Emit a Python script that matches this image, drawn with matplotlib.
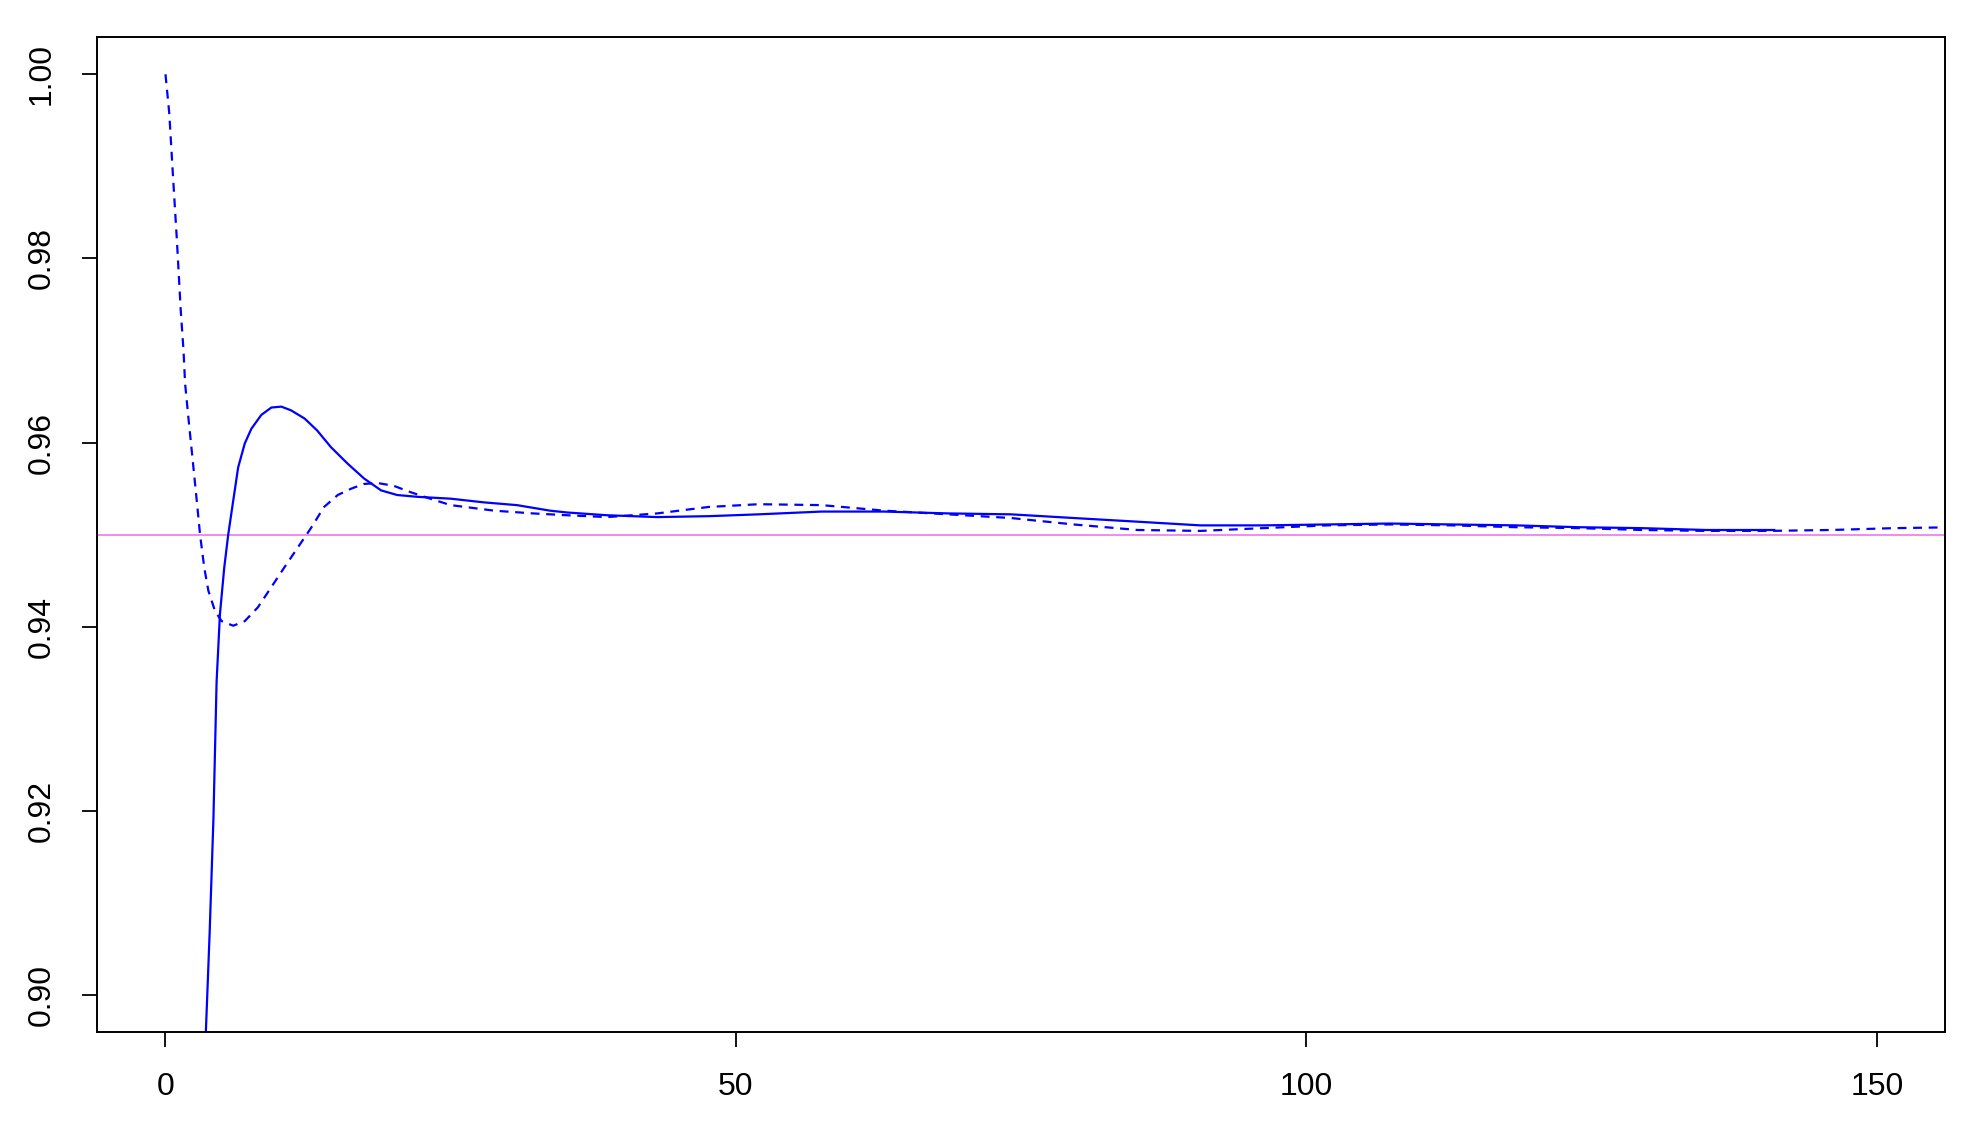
import matplotlib
matplotlib.use("Agg")
import matplotlib.pyplot as plt

plt.rcParams['font.family'] = ['Liberation Sans', 'DejaVu Sans']

# solid curve
solid_x = [3.2, 3.54, 3.87, 4.2, 4.48, 4.77, 5.15, 5.5, 5.94, 6.37, 6.95, 7.53,
           8.4, 9.28, 10.15, 11.0, 12.2, 13.3, 14.5, 15.97, 17.4, 18.9, 20.3,
           22.1, 25.0, 27.9, 30.8, 33.7, 35.2, 38.7, 43.1,
           47.6, 52.0, 57.5, 63.0, 68.6, 74.1, 79.6, 85.2, 90.7, 96.2, 101.8,
           107.3, 112.8, 118.4, 123.9, 129.4, 135.0, 141.0]
solid_y = [0.880, 0.896, 0.9067, 0.919, 0.934, 0.9413, 0.9464, 0.950, 0.9537,
           0.9573, 0.9599, 0.9615, 0.9630, 0.9638, 0.9639, 0.9635, 0.9626,
           0.9613, 0.9595, 0.9577, 0.9561, 0.9548, 0.9543, 0.9541, 0.9539,
           0.9535, 0.9532, 0.9526, 0.9524, 0.9521, 0.9519, 0.9520,
           0.9522, 0.9525, 0.9525, 0.9523, 0.9522, 0.9518, 0.9514, 0.9510,
           0.9510, 0.9511, 0.9512, 0.9511, 0.9510, 0.9508, 0.9507, 0.9505,
           0.9505]

# dashed curve
dash_x = [0.0, 0.33, 0.66, 1.0, 1.33, 1.58, 1.72, 2.0, 2.36, 2.74, 3.03, 3.4,
          3.76, 4.34, 4.92, 5.94, 6.95, 8.1, 9.28, 10.4, 11.6, 12.8, 13.9,
          15.1, 16.3, 17.4, 18.6, 20.0, 21.5, 23.2, 25.0, 28.8, 32.2, 35.2,
          38.7, 43.1, 47.6, 52.0, 57.5, 63.0, 68.6, 74.1,
          79.6, 85.2, 90.7, 96.2, 101.8, 107.3, 112.8, 118.4, 123.9, 129.4,
          135.0, 140.5, 146.0, 151.5, 157.0]
dash_y = [1.000, 0.9958, 0.9889, 0.982, 0.9745, 0.9700, 0.9664, 0.9628,
          0.9584, 0.9537, 0.9500, 0.9464, 0.9439, 0.9417, 0.9406, 0.9401,
          0.9406, 0.9421, 0.9443, 0.9464, 0.9486, 0.9508, 0.9530, 0.9543,
          0.9550, 0.9555, 0.9556, 0.9553, 0.9546, 0.9539, 0.9532, 0.9526,
          0.9523, 0.9521, 0.9519, 0.9523, 0.9530, 0.9533, 0.9532, 0.9526,
          0.9522, 0.9518, 0.9511, 0.9505, 0.9504, 0.9507, 0.9510, 0.9511,
          0.9510, 0.9508, 0.9507, 0.9505, 0.9504, 0.9504, 0.9505, 0.9507,
          0.9508]

target = 0.95
xticks = [0, 50, 100, 150]
yticks = [0.90, 0.92, 0.94, 0.96, 0.98, 1.00]

fig = plt.figure(figsize=(19.8, 11.35), dpi=100)
ax = fig.add_axes([0.049, 0.091, 0.9335, 0.876])

ax.axhline(target, color='violet', lw=1.3)
ax.plot(solid_x, solid_y, color='blue', lw=1.6)
ax.plot(dash_x, dash_y, color='blue', lw=1.6, dashes=(4, 3))

ax.set_xlim(-6, 156)
ax.set_ylim(0.896, 1.004)
ax.set_xticks(xticks)
ax.set_xticklabels([str(t) for t in xticks])
ax.set_yticks(yticks)
ax.set_yticklabels(["%.2f" % t for t in yticks], rotation=90, va='center')

ax.tick_params(axis='both', labelsize=23, length=11, width=1.3, pad=18)
for s in ax.spines.values():
    s.set_linewidth(1.4)

fig.savefig("out.png", dpi=100)
